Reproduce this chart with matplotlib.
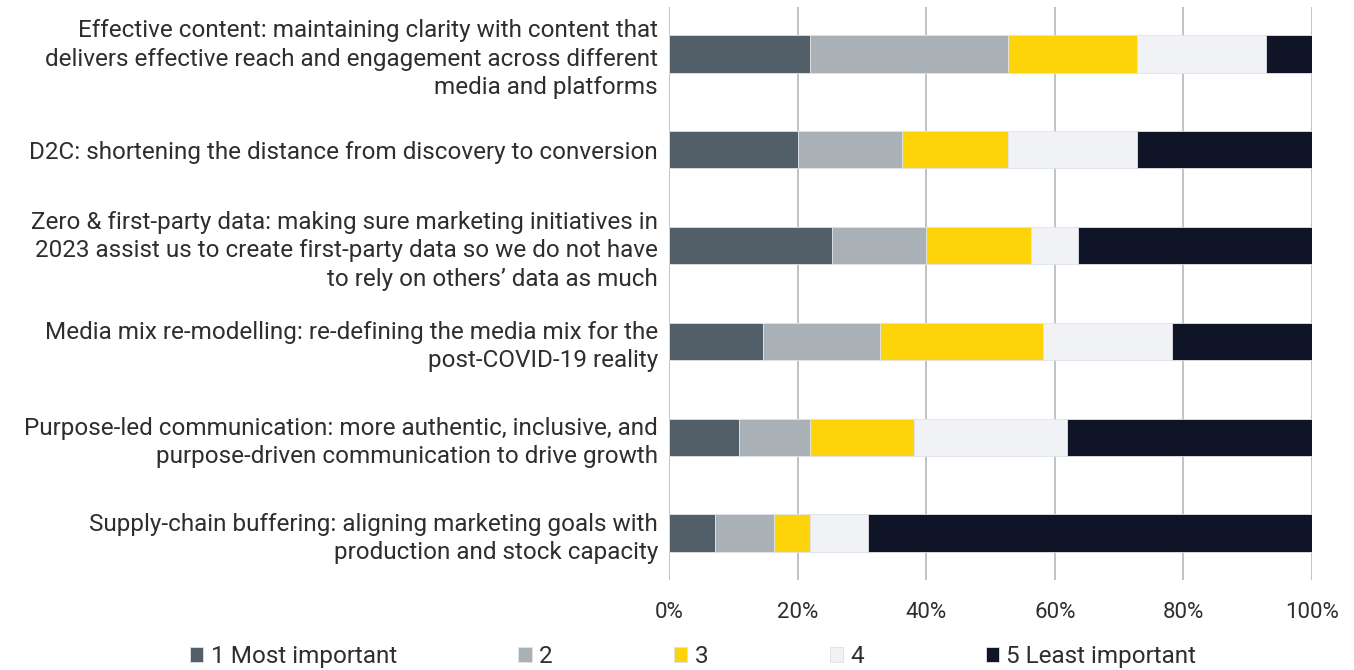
import numpy as np
import matplotlib
matplotlib.use('Agg')
import matplotlib.pyplot as plt

# Survey: importance ranking of 2023 marketing priorities (share of respondents, %)
categories = [
    "Effective content: maintaining clarity with content that\n"
    "delivers effective reach and engagement across different\n"
    "media and platforms",
    "D2C: shortening the distance from discovery to conversion",
    "Zero & first-party data: making sure marketing initiatives in\n"
    "2023 assist us to create first-party data so we do not have\n"
    "to rely on others\u2019 data as much",
    "Media mix re-modelling: re-defining the media mix for the\n"
    "post-COVID-19 reality",
    "Purpose-led communication: more authentic, inclusive, and\n"
    "purpose-driven communication to drive growth",
    "Supply-chain buffering: aligning marketing goals with\n"
    "production and stock capacity",
]
series_names = ["1 Most important", "2", "3", "4", "5 Least important"]
rank1 = [21.9, 20.0, 25.4, 14.6, 10.9, 7.2]
rank2 = [30.8, 16.3, 14.6, 18.2, 11.0, 9.2]
rank3 = [20.1, 16.4, 16.3, 25.3, 16.2, 5.5]
rank4 = [20.0, 20.1, 7.3, 20.1, 23.8, 9.0]
rank5 = [7.2, 27.2, 36.4, 21.8, 38.1, 69.1]
colors = ["#525f69", "#a9b0b6", "#fcd409", "#f1f2f6", "#0f1527"]
xticks = [0, 20, 40, 60, 80, 100]

plt.rcParams['font.family'] = ['Roboto', 'DejaVu Sans']
TEXT = '#2e2e2e'

fig = plt.figure(figsize=(13.54, 6.70), dpi=100)
ax = fig.add_axes([669 / 1354, 1 - 580 / 670, (1312 - 669) / 1354, (580 - 7) / 670])

y = np.arange(len(categories))
left = np.zeros(len(categories))
for name, vals, c in zip(series_names, [rank1, rank2, rank3, rank4, rank5], colors):
    vals = np.array(vals)
    ax.barh(y, vals, left=left, height=0.39, color=c, label=name,
            edgecolor='#dfe2e6', linewidth=0.6, zorder=3)
    left += vals

ax.set_xlim(0, 100)
ax.set_ylim(len(categories) - 0.51, -0.49)
ax.set_xticks(xticks)
ax.set_xticklabels([f"{t}%" for t in xticks], fontsize=16, color=TEXT)
ax.set_yticks(y)
ax.set_yticklabels(categories, fontsize=17.5, color=TEXT, linespacing=1.3)
ax.tick_params(axis='both', length=0)
ax.tick_params(axis='x', pad=16)
ax.tick_params(axis='y', pad=8)
ax.grid(axis='x', color='#b3b9bf', linewidth=1.2, zorder=0)
for s in ax.spines.values():
    s.set_visible(False)

fig.legend(loc='lower left', bbox_to_anchor=(168 / 1354, -0.03), ncol=5,
           frameon=False, fontsize=17.5, handlelength=0.55, handleheight=0.55,
           handletextpad=0.3, columnspacing=5.0, labelcolor=TEXT)

fig.savefig('out.png', dpi=100)
